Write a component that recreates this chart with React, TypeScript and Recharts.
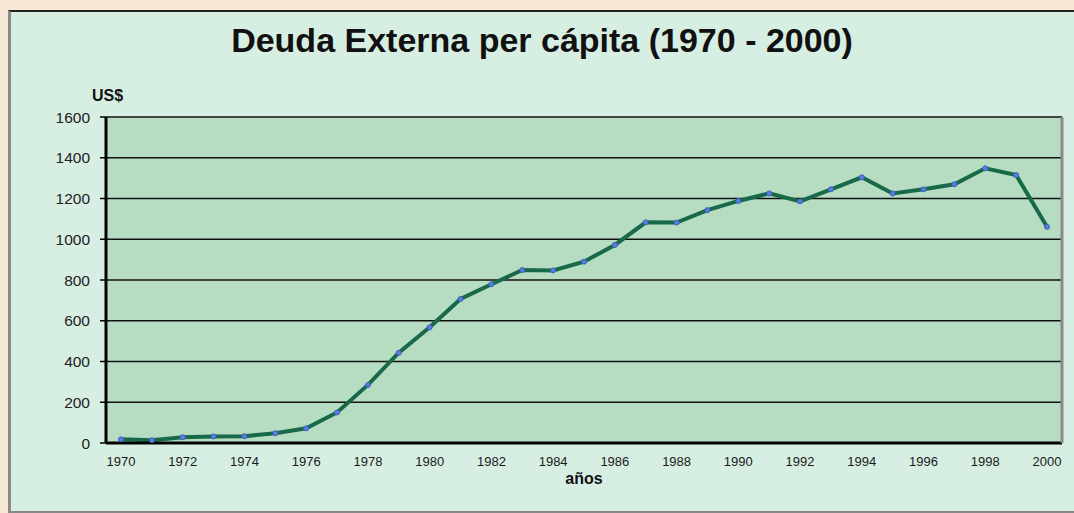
import { LineChart, Line, XAxis, YAxis, CartesianGrid } from 'recharts'

const years = [
  '1970', '1971', '1972', '1973', '1974', '1975', '1976', '1977', '1978', '1979',
  '1980', '1981', '1982', '1983', '1984', '1985', '1986', '1987', '1988', '1989',
  '1990', '1991', '1992', '1993', '1994', '1995', '1996', '1997', '1998', '1999', '2000',
]

// US$ per capita
const deuda = [
  18, 14, 28, 32, 33, 48, 72, 150, 285, 443,
  568, 707, 779, 849, 847, 890, 972, 1083, 1082, 1143,
  1188, 1225, 1186, 1245, 1304, 1225, 1245, 1270, 1348, 1315, 1061,
]

const yTicks = [0, 200, 400, 600, 800, 1000, 1200, 1400, 1600]

const data = years.map((year, i) => ({ year, deuda: deuda[i] }))

const font = '"Liberation Sans", Arial, sans-serif'

export default function App() {
  return (
    <div style={{ position: 'absolute', left: 0, top: 0, width: 1074, height: 513, background: '#f6e8d4', overflow: 'hidden', fontFamily: font }}>
      {/* chart panel */}
      <div
        style={{
          position: 'absolute',
          left: 8,
          top: 10,
          width: 1066,
          height: 503,
          boxSizing: 'border-box',
          background: '#d7efe3',
          borderLeft: '3px solid #8a8a8a',
          borderTop: '2px solid #222',
          borderBottom: '2px solid #8a8a8a',
        }}
      />
      <div style={{ position: 'absolute', left: 0, width: 1084, top: 21, textAlign: 'center', fontSize: 34, fontWeight: 'bold', color: '#111' }}>
        Deuda Externa per cápita (1970 - 2000)
      </div>
      <div style={{ position: 'absolute', left: 92, top: 87, fontSize: 16, fontWeight: 'bold', color: '#111' }}>US$</div>
      <div style={{ position: 'absolute', left: 106, width: 956, top: 470, textAlign: 'center', fontSize: 16, fontWeight: 'bold', color: '#111' }}>años</div>

      <div style={{ position: 'absolute', left: 0, top: 0 }}>
        <LineChart width={1074} height={513} data={data} margin={{ top: 117, right: 10, bottom: 40, left: 46 }}>
          <CartesianGrid vertical={false} stroke="#111" strokeWidth={1.6} fill="#b6dcc1" fillOpacity={1} />
          <XAxis
            dataKey="year"
            interval={1}
            padding={{ left: 15, right: 15 }}
            tickLine={false}
            tickSize={0}
            tickMargin={14}
            axisLine={{ stroke: '#000', strokeWidth: 3 }}
            tick={{ fill: '#1a1a1a', fontSize: 13, fontFamily: font }}
          />
          <YAxis
            domain={[0, 1600]}
            ticks={yTicks}
            width={60}
            tickSize={6}
            tickMargin={10}
            tickLine={{ stroke: '#000', strokeWidth: 1.5 }}
            axisLine={{ stroke: '#000', strokeWidth: 3 }}
            tick={{ fill: '#222', fontSize: 15.5, fontFamily: font }}
          />
          <YAxis
            yAxisId="right"
            orientation="right"
            domain={[0, 1600]}
            width={2}
            tick={false}
            tickLine={false}
            axisLine={{ stroke: '#8a8a8a', strokeWidth: 3 }}
          />
          <Line
            type="linear"
            dataKey="deuda"
            stroke="#17694a"
            strokeWidth={4}
            dot={{ r: 2.5, fill: '#5a7ee0', stroke: '#3f5fc0', strokeWidth: 1 }}
            isAnimationActive={false}
          />
        </LineChart>
      </div>
    </div>
  )
}
